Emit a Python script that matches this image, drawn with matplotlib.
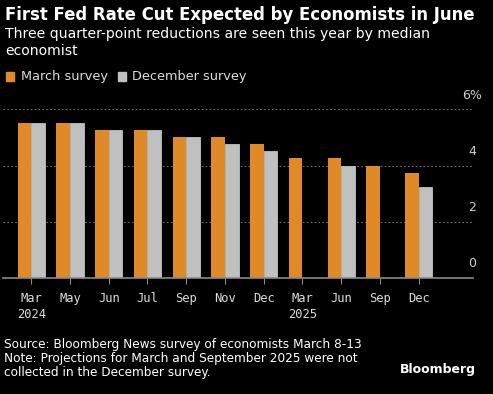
import numpy as np
import matplotlib
matplotlib.use("Agg")
import matplotlib.pyplot as plt

# Median fed funds projections, %
months = ["Mar\n2024", "May", "Jun", "Jul", "Sep", "Nov", "Dec",
          "Mar\n2025", "Jun", "Sep", "Dec"]
march_survey = [5.5, 5.5, 5.25, 5.25, 5.0, 5.0, 4.75, 4.25, 4.25, 4.0, 3.75]
# Mar and Sep 2025 were not collected in December -> drawn as 0
december_survey = [5.5, 5.5, 5.25, 5.25, 5.0, 4.75, 4.5, 0, 4.0, 0, 3.25]
y_ticks = [0, 2, 4, 6]

ORANGE = "#DF8A26"
GRAY = "#C0C0C0"
BG = "black"

fig = plt.figure(figsize=(4.93, 3.94), dpi=100, facecolor=BG)
ax = fig.add_axes([0.006, 0.295, 0.954, 0.4274])
ax.set_facecolor(BG)

x = np.arange(len(months))
w = 0.35
ax.bar(x - w / 2, march_survey, w, color=ORANGE, linewidth=0)
ax.bar(x + w / 2, december_survey, w, color=GRAY, edgecolor=GRAY, linewidth=0.6)

ax.set_xlim(-0.73, len(months) - 1 + 1.41)
ax.set_ylim(0, 6.0)

for y in y_ticks[1:]:
    ax.axhline(y, color="#707070", linestyle=(0, (1.5, 2)), linewidth=0.8, zorder=0)
ax.set_yticks([])
for y in y_ticks:
    lab = f"{y}%" if y == 6 else str(y)
    ax.text(0.997, y + 0.28, lab, transform=ax.get_yaxis_transform(),
            color="#d0d0d0", fontsize=9, ha="center", va="bottom")

ax.set_xticks(x)
ax.set_xticklabels(months, family="DejaVu Sans Mono", fontsize=8.7,
                   color="#dcdcdc", linespacing=1.3)
ax.tick_params(axis="x", length=4, width=0.8, color="#8a8a8a", pad=6)
for s in ["top", "left", "right"]:
    ax.spines[s].set_visible(False)
ax.spines["bottom"].set_color("#8a8a8a")
ax.spines["bottom"].set_linewidth(1.2)

# header
fig.text(0.01, 0.963, "First Fed Rate Cut Expected by Economists in June",
         color="white", fontsize=11.9, fontweight="bold", va="center")
fig.text(0.01, 0.932, "Three quarter-point reductions are seen this year by median\neconomist",
         color="white", fontsize=10.1, va="top", linespacing=1.3)

# legend
fig.patches.append(plt.Rectangle((0.012, 0.795), 0.016, 0.022, color=ORANGE,
                                 transform=fig.transFigure, figure=fig))
fig.text(0.042, 0.806, "March survey", color="#dcdcdc", fontsize=9.3, va="center")
fig.patches.append(plt.Rectangle((0.239, 0.795), 0.016, 0.022, color=GRAY,
                                 transform=fig.transFigure, figure=fig))
fig.text(0.268, 0.806, "December survey", color="#dcdcdc", fontsize=9.3, va="center")

# footer
fig.text(0.008, 0.089,
         "Source: Bloomberg News survey of economists March 8-13\n"
         "Note: Projections for March and September 2025 were not\n"
         "collected in the December survey.",
         color="white", fontsize=8.7, va="center", linespacing=1.1)
fig.text(0.966, 0.061, "Bloomberg", color="white", fontsize=9, fontweight="bold",
         ha="right", va="center")

fig.savefig("out.png", dpi=100, facecolor=BG)
